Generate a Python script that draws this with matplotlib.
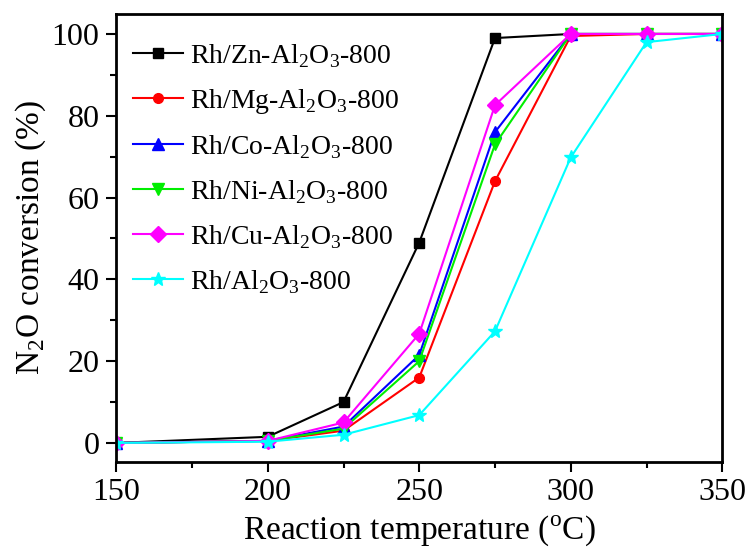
import matplotlib
matplotlib.use("Agg")
import matplotlib.pyplot as plt
from matplotlib.ticker import MultipleLocator

plt.rcParams['font.family'] = ['Liberation Serif', 'DejaVu Serif']
plt.rcParams['mathtext.fontset'] = 'custom'
plt.rcParams['mathtext.rm'] = 'Liberation Serif'

# temperatures (C)
temps = [150, 200, 225, 250, 275, 300, 325, 350]

# N2O conversion (%)
zn = [0, 1.5, 10, 49, 99, 100, 100, 100]
mg = [0, 0.5, 3, 16, 64, 99.5, 100, 100]
co = [0, 0.5, 4, 21.5, 76, 100, 100, 100]
ni = [0, 0.5, 3.5, 20, 73, 100, 100, 100]
cu = [0, 0.5, 5, 26.7, 82.6, 100, 100, 100]
al = [0, 0.3, 2, 6.8, 27.3, 69.8, 98, 100]

labels = [r'Rh/Zn-Al$_2$O$_3$-800', r'Rh/Mg-Al$_2$O$_3$-800', r'Rh/Co-Al$_2$O$_3$-800',
          r'Rh/Ni-Al$_2$O$_3$-800', r'Rh/Cu-Al$_2$O$_3$-800', r'Rh/Al$_2$O$_3$-800']
series = [zn, mg, co, ni, cu, al]
colors = ['black', 'red', 'blue', '#00ee00', 'magenta', 'cyan']
markers = ['s', 'o', '^', 'v', 'D', '*']
msizes = [7, 7, 8, 8, 8, 10]

fig = plt.figure(figsize=(7.5, 5.57), dpi=100)
ax = fig.add_axes([0.155, 0.171, 0.808, 0.804])

for y, lab, c, m, ms in zip(series, labels, colors, markers, msizes):
    ax.plot(temps, y, color=c, marker=m, markersize=ms, linewidth=1.5, label=lab)

ax.set_xlim(150, 350)
ax.set_ylim(-4.6, 104.9)
ax.xaxis.set_major_locator(MultipleLocator(50))
ax.xaxis.set_minor_locator(MultipleLocator(25))
ax.yaxis.set_major_locator(MultipleLocator(20))
ax.yaxis.set_minor_locator(MultipleLocator(10))
ax.tick_params(which='major', direction='out', length=7, width=1.5, labelsize=23, pad=5)
ax.tick_params(which='minor', direction='out', length=4, width=1.5)
for s in ax.spines.values():
    s.set_linewidth(2)

ax.set_xlabel(r'Reaction temperature ($^{\rm o}$C)', fontsize=24, labelpad=4)
ax.set_ylabel(r'N$_2$O conversion (%)', fontsize=24, labelpad=3)

ax.legend(loc='upper left', frameon=False, fontsize=20, handlelength=1.8,
          labelspacing=0.62, borderaxespad=0.2, handletextpad=0.25,
          bbox_to_anchor=(0.0, 0.975))

fig.savefig('out.png', dpi=100)
